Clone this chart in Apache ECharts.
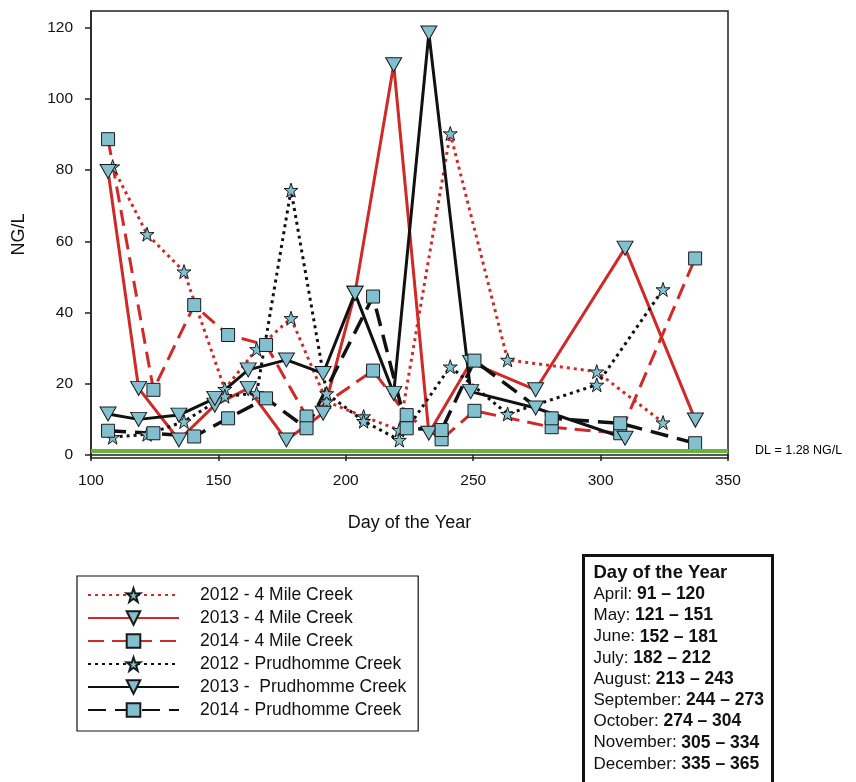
<!DOCTYPE html>
<html>
<head>
<meta charset="utf-8">
<script src="https://cdn.jsdelivr.net/npm/echarts@6/dist/echarts.min.js"></script>
<style>
html,body{margin:0;padding:0;background:#fff;}
#chart{width:856px;height:782px;}
</style>
</head>
<body>
<div id="chart"></div>
<script>
// ---- data ----
const seriesNames = ['2012 - 4 Mile Creek','2013 - 4 Mile Creek','2014 - 4 Mile Creek','2012 - Prudhomme Creek','2013 -  Prudhomme Creek','2014 - Prudhomme Creek'];
const days2012 = [108.5, 122, 136.5, 152.5, 165, 178.5, 192.5, 207, 221, 241, 263.5, 298.5, 324.5];
const mile2012 = [81, 62, 51.5, 18.5, 29.7, 38.4, 15, 10.8, 7, 90.3, 26.7, 23.4, 9.1];
const prud2012 = [5, 5.8, 9.4, 16.5, 17.3, 74.4, 17.3, 9.5, 4.2, 24.8, 11.5, 19.7, 46.5];
const days2013 = [106.7, 118.7, 134.5, 148.6, 161.7, 176.7, 191.1, 203.6, 218.8, 232.6, 249, 274.5, 309.6, 337.2];
const mile2013 = [79.6, 18.7, 4.2, 14, 18.7, 4.2, 11.7, 45.4, 109.6, 6.1, 26, 18.3, 58.1, 9.8];
const prud2013 = [11.5, 10, 11.2, 15.9, 23.9, 26.7, 22.9, 45.4, 17.3, 118.5, 17.8, 13.2, 4.7, null];
const days2014 = [106.7, 124.5, 140.5, 153.8, 168.7, 184.6, 210.7, 223.9, 237.6, 250.5, 280.8, 307.7, 337.1];
const mile2014 = [88.7, 18.3, 42.1, 33.7, 30.9, 10.8, 23.7, 11.2, 4.4, 12.4, 7.8, 6.1, 55.2];
const prud2014 = [6.8, 6.1, 5.2, 10.3, 15.9, 7.5, 44.5, 7.5, 7.0, 26.5, 10.3, 8.9, 3.3];
const yTicks = [0, 20, 40, 60, 80, 100, 120];
const detectionLimit = 1.28;
const monthRanges = [
  ['April: ', '91 – 120'], ['May: ', '121 – 151'], ['June: ', '152 – 181'],
  ['July: ', '182 – 212'], ['August: ', '213 – 243'], ['September: ', '244 – 273'],
  ['October: ', '274 – 304'], ['November: ', '305 – 334'], ['December: ', '335 – 365']
];

// ---- styling ----
const RED = '#cf2a27', BLK = '#111111', FILL = '#82bfcf';
const STAR = 'path://M50,0 L61.8,35.1 L97.6,34.5 L68.8,55.9 L79.4,90.5 L50,69.5 L20.6,90.5 L31.2,55.9 L2.4,34.5 L38.2,35.1 Z';
const TRI = 'path://M0,0 L10,0 L5,8.7 Z';
const SQ = 'rect';
const FONT = '"Liberation Sans", Arial, sans-serif';

function pairs(xs, ys){ return xs.map((x,i)=>[x, ys[i]]); }
function mk(name, xs, ys, color, dash, width, symbol, size){
  return {
    name, type:'line', data: pairs(xs, ys), showAllSymbol:true,
    symbol, symbolSize:size, connectNulls:false,
    lineStyle:{color, width, type:dash},
    itemStyle:{color:FILL, borderColor:'#1a1a1a', borderWidth:1},
    emphasis:{disabled:true}, animation:false, z:3
  };
}

const series = [
  mk(seriesNames[0], days2012, mile2012, RED, [3,4], 3, STAR, 14),
  mk(seriesNames[1], days2013, mile2013, RED, 'solid', 3, TRI, [16,14]),
  mk(seriesNames[2], days2014, mile2014, RED, [16,8], 3, SQ, 13),
  mk(seriesNames[3], days2012, prud2012, BLK, [3,4], 3, STAR, 14),
  mk(seriesNames[4], days2013, prud2013, BLK, 'solid', 3, TRI, [16,14]),
  mk(seriesNames[5], days2014, prud2014, BLK, [18,9], 3.5, SQ, 13),
  {
    name:'DL', type:'line', data:[], silent:true, animation:false,
    markLine:{
      silent:true, symbol:'none', animation:false,
      lineStyle:{color:'#6ab23e', width:4, type:'solid'},
      label:{position:'end', formatter:'DL = 1.28 NG/L', color:'#000', fontSize:12.5, fontFamily:FONT, distance:27},
      data:[{yAxis:detectionLimit}]
    }
  }
];

let richText = '{h|Day of the Year}';
monthRanges.forEach(m => { richText += '\n{r|' + m[0] + '}{b|' + m[1] + '}'; });

const chart = echarts.init(document.getElementById('chart'), null, {renderer:'canvas'});
chart.setOption({
  backgroundColor:'#fff',
  animation:false,
  grid:{left:91, top:11, width:637, height:447, show:true, borderColor:'#222', borderWidth:1.5, backgroundColor:'transparent'},
  xAxis:{
    type:'value', min:100, max:350, interval:50,
    name:'Day of the Year', nameLocation:'middle', nameGap:56,
    nameTextStyle:{fontSize:18, color:'#111', fontFamily:FONT},
    axisLine:{show:true, lineStyle:{color:'#222', width:1.5}},
    axisTick:{show:true, inside:false, length:6, lineStyle:{color:'#222', width:1.5}},
    axisLabel:{fontSize:15.5, color:'#111', fontFamily:FONT, margin:15},
    splitLine:{show:false}
  },
  yAxis:{
    type:'value', min:-0.85, max:124.7,
    name:'NG/L', nameLocation:'middle', nameGap:63, nameRotate:90,
    nameTextStyle:{fontSize:18, color:'#111', fontFamily:FONT},
    axisLine:{show:true, lineStyle:{color:'#222', width:1.5}},
    axisTick:{show:true, inside:false, length:6, customValues:yTicks, lineStyle:{color:'#222', width:1.5}},
    axisLabel:{fontSize:15.5, color:'#111', fontFamily:FONT, margin:18, customValues:yTicks},
    splitLine:{show:false}
  },
  legend:{
    data:seriesNames, orient:'vertical', left:77, top:576,
    padding:[10, 12, 12, 10], itemGap:5, itemWidth:91, itemHeight:17,
    backgroundColor:'#fff', borderColor:'#111', borderWidth:1.2, borderRadius:0,
    selectedMode:false,
    textStyle:{fontSize:17.5, color:'#111', fontFamily:FONT, padding:[0,0,0,16]}
  },
  series,
  graphic:[{
    type:'group', left:582, top:554,
    children:[
      {type:'rect', shape:{x:0, y:0, width:189, height:240}, style:{fill:'#fff', stroke:'#111', lineWidth:3}},
      {type:'text', x:10, y:7, style:{
        text:richText, fill:'#111',
        rich:{
          h:{fontSize:18.5, fontWeight:'bold', fontFamily:FONT, lineHeight:21.2, fill:'#111'},
          b:{fontSize:17.5, fontWeight:'bold', fontFamily:FONT, lineHeight:21.2, fill:'#111'},
          r:{fontSize:17, fontFamily:FONT, lineHeight:21.2, fill:'#111'}
        }
      }}
    ]
  }]
});
</script>
</body>
</html>
